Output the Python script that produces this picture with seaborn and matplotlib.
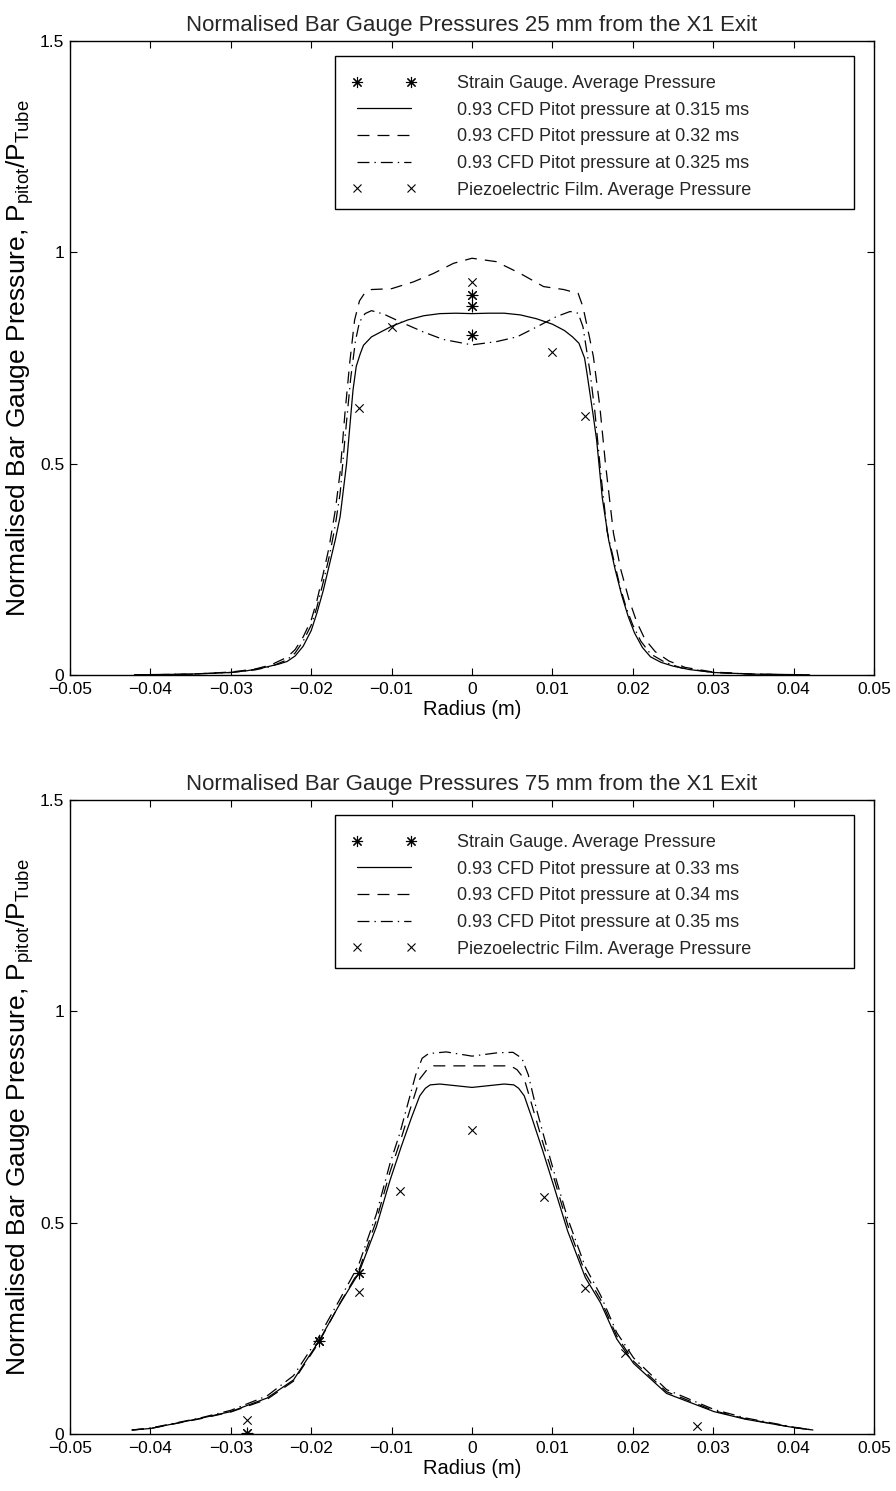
import numpy as np
import pandas as pd
import matplotlib
matplotlib.use('Agg')
import matplotlib.pyplot as plt
import seaborn as sns
from matplotlib.lines import Line2D
from matplotlib.patches import Rectangle
from matplotlib.ticker import FixedLocator, FixedFormatter

# ---- data ----
x_ticks = [-0.05, -0.04, -0.03, -0.02, -0.01, 0.0, 0.01, 0.02, 0.03, 0.04, 0.05]
x_tick_labels = ['\u22120.05', '\u22120.04', '\u22120.03', '\u22120.02', '\u22120.01', '0',
                 '0.01', '0.02', '0.03', '0.04', '0.05']
y_ticks = [0, 0.5, 1.0, 1.5]
y_tick_labels = ['0', '0.5', '1', '1.5']

titles = ['Normalised Bar Gauge Pressures 25 mm from the X1 Exit',
          'Normalised Bar Gauge Pressures 75 mm from the X1 Exit']
labels_25 = ['Strain Gauge. Average Pressure',
             '0.93 CFD Pitot pressure at 0.315 ms',
             '0.93 CFD Pitot pressure at 0.32 ms',
             '0.93 CFD Pitot pressure at 0.325 ms',
             'Piezoelectric Film. Average Pressure']
labels_75 = ['Strain Gauge. Average Pressure',
             '0.93 CFD Pitot pressure at 0.33 ms',
             '0.93 CFD Pitot pressure at 0.34 ms',
             '0.93 CFD Pitot pressure at 0.35 ms',
             'Piezoelectric Film. Average Pressure']

# 25 mm, CFD 0.315 ms
r_a1 = [-0.042, -0.040, -0.035, -0.030, -0.028, -0.026, -0.024, -0.023, -0.022, -0.021,
        -0.020, -0.0193, -0.0185, -0.0177, -0.0170, -0.0164, -0.0156, -0.0148, -0.0144,
        -0.0139, -0.0135, -0.0125, -0.0110, -0.0100, -0.0080, -0.0060, -0.0040, -0.0020,
        0.0, 0.0020, 0.0040, 0.0060, 0.0080, 0.0100, 0.0115, 0.0125, 0.0133, 0.0140,
        0.0143, 0.0151, 0.0155, 0.0162, 0.0170, 0.0178, 0.0186, 0.0194, 0.0202, 0.0212,
        0.0222, 0.0235, 0.0250, 0.0270, 0.0300, 0.0350, 0.0400, 0.0420]
p_a1 = [0.000, 0.001, 0.002, 0.006, 0.010, 0.017, 0.026, 0.032, 0.045, 0.068,
        0.105, 0.146, 0.200, 0.264, 0.320, 0.375, 0.500, 0.674, 0.730,
        0.760, 0.780, 0.800, 0.815, 0.825, 0.840, 0.850, 0.855, 0.856,
        0.855, 0.856, 0.856, 0.852, 0.843, 0.830, 0.815, 0.800, 0.785, 0.750,
        0.714, 0.611, 0.556, 0.420, 0.319, 0.250, 0.190, 0.140, 0.100, 0.065,
        0.043, 0.030, 0.021, 0.013, 0.006, 0.002, 0.001, 0.000]
# 25 mm, CFD 0.32 ms
r_a2 = [-0.042, -0.035, -0.030, -0.027, -0.025, -0.023, -0.022, -0.021, -0.020, -0.0193,
        -0.0185, -0.0178, -0.0170, -0.0164, -0.0158, -0.0152, -0.0146, -0.0140, -0.0133,
        -0.0125, -0.0100, -0.0073, -0.0048, -0.0023, 0.0, 0.0030, 0.0060, 0.0089, 0.0114,
        0.0132, 0.0138, 0.0146, 0.0151, 0.0159, 0.0166, 0.0176, 0.0185, 0.0195, 0.0205,
        0.0215, 0.0228, 0.0245, 0.0265, 0.0300, 0.0350, 0.0420]
p_a2 = [0.000, 0.002, 0.007, 0.014, 0.024, 0.042, 0.060, 0.090, 0.130, 0.175,
        0.240, 0.300, 0.390, 0.480, 0.620, 0.740, 0.840, 0.885, 0.905,
        0.912, 0.914, 0.930, 0.950, 0.974, 0.986, 0.978, 0.950, 0.919, 0.912,
        0.903, 0.871, 0.800, 0.753, 0.635, 0.500, 0.335, 0.250, 0.180, 0.125,
        0.085, 0.055, 0.033, 0.018, 0.007, 0.002, 0.000]
# 25 mm, CFD 0.325 ms
r_a3 = [-0.042, -0.035, -0.030, -0.027, -0.025, -0.023, -0.022, -0.021, -0.020, -0.0193,
        -0.0185, -0.0177, -0.0170, -0.0164, -0.0158, -0.0151, -0.0145, -0.0140, -0.0133,
        -0.0125, -0.0110, -0.0085, -0.0061, -0.0036, 0.0, 0.0031, 0.0056, 0.0080, 0.0105,
        0.0122, 0.0132, 0.0138, 0.0147, 0.0153, 0.0160, 0.0168, 0.0176, 0.0184, 0.0192,
        0.0200, 0.0210, 0.0222, 0.0240, 0.0260, 0.0300, 0.0350, 0.0420]
p_a3 = [0.000, 0.002, 0.006, 0.012, 0.020, 0.036, 0.052, 0.080, 0.118, 0.160,
        0.220, 0.285, 0.355, 0.430, 0.560, 0.700, 0.790, 0.835, 0.855,
        0.862, 0.854, 0.832, 0.812, 0.794, 0.781, 0.789, 0.800, 0.823, 0.848,
        0.860, 0.856, 0.824, 0.714, 0.620, 0.480, 0.340, 0.275, 0.210, 0.158,
        0.118, 0.080, 0.050, 0.030, 0.017, 0.006, 0.002, 0.000]
# 25 mm measurements
sg_r_a = [0.0, 0.0, 0.0]
sg_p_a = [0.900, 0.873, 0.805]
pz_r_a = [-0.014, -0.010, 0.0, 0.010, 0.014]
pz_p_a = [0.632, 0.823, 0.930, 0.765, 0.613]

# 75 mm, CFD 0.33 ms
r_b1 = [-0.0423, -0.040, -0.0338, -0.030, -0.0255, -0.0222, -0.0191, -0.0164, -0.0141,
        -0.0119, -0.0102, -0.0088, -0.0075, -0.0065, -0.0058, -0.0052, -0.0040, -0.0020,
        0.0, 0.0020, 0.0040, 0.0052, 0.0058, 0.0065, 0.0075, 0.0088, 0.0102, 0.0119,
        0.0141, 0.0160, 0.0180, 0.0201, 0.0242, 0.0301, 0.0340, 0.0401, 0.0424]
p_b1 = [0.0095, 0.013, 0.037, 0.053, 0.085, 0.128, 0.218, 0.309, 0.380,
        0.490, 0.600, 0.680, 0.750, 0.800, 0.818, 0.826, 0.828, 0.824,
        0.820, 0.824, 0.828, 0.826, 0.818, 0.800, 0.745, 0.670, 0.585, 0.480,
        0.370, 0.310, 0.225, 0.167, 0.096, 0.053, 0.035, 0.015, 0.0095]
# 75 mm, CFD 0.34 ms
r_b2 = [-0.0423, -0.040, -0.0338, -0.030, -0.0255, -0.0222, -0.0191, -0.0164, -0.0141,
        -0.0119, -0.0102, -0.0088, -0.0075, -0.0065, -0.0056, -0.0048, 0.0, 0.0048, 0.0056,
        0.0065, 0.0075, 0.0088, 0.0102, 0.0119, 0.0141, 0.0160, 0.0180, 0.0201, 0.0242,
        0.0301, 0.0340, 0.0401, 0.0424]
p_b2 = [0.0095, 0.013, 0.036, 0.052, 0.082, 0.125, 0.215, 0.310, 0.385,
        0.505, 0.620, 0.700, 0.780, 0.840, 0.862, 0.871, 0.871, 0.871, 0.862,
        0.840, 0.775, 0.690, 0.605, 0.495, 0.380, 0.318, 0.232, 0.172, 0.100,
        0.055, 0.036, 0.015, 0.0095]
# 75 mm, CFD 0.35 ms
r_b3 = [-0.0423, -0.040, -0.0338, -0.030, -0.0255, -0.0222, -0.0191, -0.0164, -0.0141,
        -0.0119, -0.0102, -0.0090, -0.0080, -0.0070, -0.0062, -0.0054, -0.0032, 0.0,
        0.0032, 0.0051, 0.0062, 0.0070, 0.0080, 0.0090, 0.0102, 0.0119, 0.0141, 0.0160,
        0.0180, 0.0201, 0.0242, 0.0301, 0.0340, 0.0401, 0.0424]
p_b3 = [0.0095, 0.014, 0.038, 0.056, 0.090, 0.138, 0.228, 0.320, 0.400,
        0.520, 0.640, 0.710, 0.780, 0.850, 0.889, 0.900, 0.904, 0.894,
        0.902, 0.903, 0.889, 0.850, 0.770, 0.700, 0.620, 0.510, 0.395, 0.328,
        0.240, 0.180, 0.105, 0.058, 0.038, 0.016, 0.0095]
# 75 mm measurements
sg_r_b = [-0.028, -0.019, -0.014]
sg_p_b = [0.003, 0.221, 0.380]
pz_r_b = [-0.028, -0.019, -0.014, -0.009, 0.0, 0.009, 0.014, 0.019, 0.028]
pz_p_b = [0.032, 0.220, 0.335, 0.575, 0.720, 0.560, 0.345, 0.191, 0.020]

# ---- style ----
sns.set_theme(style="white")
plt.rcParams.update({
    'font.family': ['Liberation Sans', 'DejaVu Sans'],
    'mathtext.default': 'regular',
    'lines.scale_dashes': False,
    'axes.edgecolor': 'black',
    'axes.linewidth': 1.0,
    'xtick.direction': 'in',
    'ytick.direction': 'in',
    'xtick.bottom': True,
    'ytick.left': True,
    'xtick.top': True,
    'ytick.right': True,
    'xtick.major.size': 5,
    'ytick.major.size': 5,
    'xtick.major.width': 0.8,
    'ytick.major.width': 0.8,
    'xtick.color': 'black',
    'ytick.color': 'black',
    'xtick.labelsize': 12.5,
    'ytick.labelsize': 12.5,
    'axes.labelcolor': 'black',
})

ASTER = (8, 2, 0)
LW = 0.9
DASH = (0, (8.6, 5.8))
DASHDOT = (0, (8.6, 3.6, 1.0, 3.6))

fig = plt.figure(figsize=(8.96, 14.91), dpi=100)
W, H = 896.0, 1491.0
ax_top = fig.add_axes([70 / W, 1 - 675 / H, 804 / W, 634 / H])
ax_bot = fig.add_axes([70 / W, 1 - 1434 / H, 804 / W, 634 / H])

panels = [
    (ax_top, titles[0], labels_25, [(r_a1, p_a1), (r_a2, p_a2), (r_a3, p_a3)],
     (sg_r_a, sg_p_a), (pz_r_a, pz_p_a)),
    (ax_bot, titles[1], labels_75, [(r_b1, p_b1), (r_b2, p_b2), (r_b3, p_b3)],
     (sg_r_b, sg_p_b), (pz_r_b, pz_p_b)),
]

styles = ['-', DASH, DASHDOT]

for ax, title, labels, curves, sg, pz in panels:
    for (r, p), ls in zip(curves, styles):
        df = pd.DataFrame({'r': r, 'p': p})
        sns.lineplot(data=df, x='r', y='p', ax=ax, color='black', lw=LW,
                     linestyle=ls, estimator=None, sort=False)
    sns.scatterplot(x=sg[0], y=sg[1], ax=ax, marker=ASTER, s=60, color='black',
                    linewidth=0.8)
    sns.scatterplot(x=pz[0], y=pz[1], ax=ax, marker='x', s=36, color='black',
                    linewidth=0.8)

    ax.set_xlim(-0.05, 0.05)
    ax.set_ylim(0, 1.5)
    ax.xaxis.set_major_locator(FixedLocator(x_ticks))
    ax.xaxis.set_major_formatter(FixedFormatter(x_tick_labels))
    ax.yaxis.set_major_locator(FixedLocator(y_ticks))
    ax.yaxis.set_major_formatter(FixedFormatter(y_tick_labels))
    ax.tick_params(axis='x', pad=5)
    ax.tick_params(axis='y', pad=4)
    ax.grid(False)
    for sp in ax.spines.values():
        sp.set_visible(True)
        sp.set_color('black')
        sp.set_linewidth(1.0)

    ax.set_title(title, fontsize=16, pad=7)
    ax.set_xlabel('Radius (m)', fontsize=14.5, labelpad=2)
    ax.set_ylabel(r'Normalised Bar Gauge Pressure, P$_{pitot}$/P$_{Tube}$',
                  fontsize=19, labelpad=3)

    # MATLAB-style legend box: wide frame, entries on the left
    ax.add_patch(Rectangle((0.329, 0.7346), 0.646, 0.241, transform=ax.transAxes,
                           facecolor='white', edgecolor='black', lw=1.0, zorder=4.5))
    handles = [
        Line2D([], [], ls='none', marker=ASTER, ms=8, mew=0.8, color='black'),
        Line2D([], [], ls='-', lw=LW, color='black'),
        Line2D([], [], ls=DASH, lw=LW, color='black'),
        Line2D([], [], ls=DASHDOT, lw=LW, color='black'),
        Line2D([], [], ls='none', marker='x', ms=6, mew=0.8, color='black'),
    ]
    leg = ax.legend(handles, labels, loc='upper left', bbox_to_anchor=(0.3504, 0.946),
                    borderaxespad=0, frameon=False, numpoints=2, handlelength=3.56,
                    handletextpad=2.27, labelspacing=0.53, borderpad=0,
                    fontsize=13)
    leg.set_zorder(5)

fig.savefig('out.png', dpi=100)
